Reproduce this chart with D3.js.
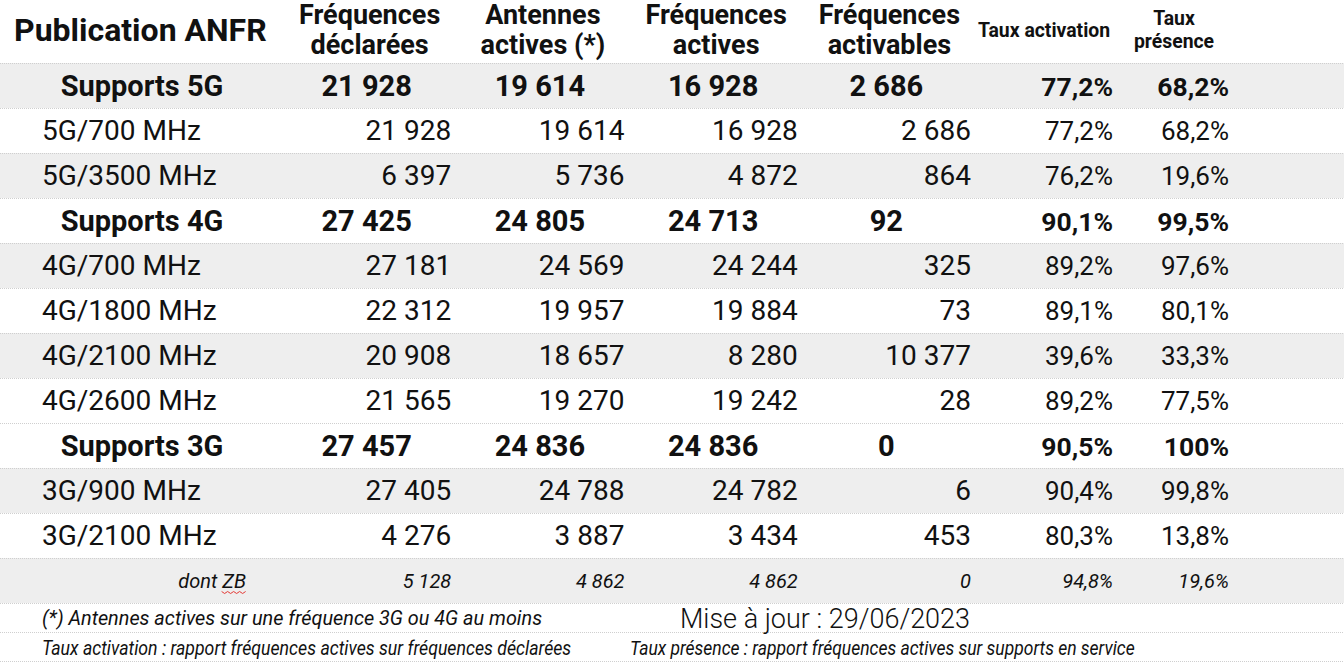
<!DOCTYPE html>
<html><head><meta charset="utf-8">
<script src="https://cdn.jsdelivr.net/npm/d3@7"></script>
<style>
html,body{margin:0;padding:0;background:#fff;}
svg{display:block;font-family:Roboto, "Noto Sans", sans-serif;}
</style></head>
<body><svg id="c" width="1344" height="665"></svg>
<script>
// ---------- data ----------
const title = "Publication ANFR";
const headers = [["Fréquences","déclarées"],["Antennes","actives (*)"],["Fréquences","actives"],["Fréquences","activables"],["Taux activation"],["Taux","présence"]];
const rowLabels = ["Supports 5G","5G/700 MHz","5G/3500 MHz","Supports 4G","4G/700 MHz","4G/1800 MHz","4G/2100 MHz","4G/2600 MHz","Supports 3G","3G/900 MHz","3G/2100 MHz","dont ZB"];
const rowKinds  = ["total","band","band","total","band","band","band","band","total","band","band","sub"];
const rowShaded = [true,false,true,false,true,false,true,false,false,true,false,true];
const freqDeclarees   = [21928,21928,6397,27425,27181,22312,20908,21565,27457,27405,4276,5128];
const antennesActives = [19614,19614,5736,24805,24569,19957,18657,19270,24836,24788,3887,4862];
const freqActives     = [16928,16928,4872,24713,24244,19884,8280,19242,24836,24782,3434,4862];
const freqActivables  = [2686,2686,864,92,325,73,10377,28,0,6,453,0];
const tauxActivation  = [77.2,77.2,76.2,90.1,89.2,89.1,39.6,89.2,90.5,90.4,80.3,94.8];
const tauxPresence    = [68.2,68.2,19.6,99.5,97.6,80.1,33.3,77.5,100,99.8,13.8,19.6];
const footnote = "(*) Antennes actives sur une fréquence 3G ou 4G au moins";
const updated = "Mise à jour : 29/06/2023";
const defActivation = "Taux activation : rapport fréquences actives sur fréquences déclarées";
const defPresence = "Taux présence : rapport fréquences actives sur supports en service";

// ---------- setup ----------
const W = 1344, H = 665;
const svg = d3.select("#c");
const loc = d3.formatLocale({decimal:",", thousands:"\u00a0", grouping:[3], currency:["","€"]});
const fInt = loc.format(",d");
const fPct = v => (Number.isInteger(v) ? loc.format("d")(v) : loc.format(".1f")(v)) + "%";

const countCols = [freqDeclarees, antennesActives, freqActives, freqActivables];
const pctCols = [tauxActivation, tauxPresence];

const y = d3.scaleBand().domain(d3.range(rowLabels.length)).range([63, 603]);
const xCount = d3.scaleBand().domain(d3.range(4)).range([280, 973]);
const pctRight = d3.scaleOrdinal().domain([0,1]).range([1113, 1229]);
const pctHeadCenter = d3.scaleOrdinal().domain([0,1]).range([1044, 1174]);

// text helper (optional horizontal condensing)
function ctext(parent, x, yy, txt, opt) {
  const g = parent.append("g").attr("transform", `translate(${x},${yy}) scale(${opt.sx||1},1)`);
  return g.append("text")
    .attr("text-anchor", opt.anchor || "start")
    .attr("font-size", opt.size)
    .attr("font-weight", opt.weight || 400)
    .attr("font-style", opt.style || "normal")
    .attr("fill", opt.fill || "#111")
    .text(txt);
}

// row backgrounds
svg.append("g").selectAll("rect").data(rowLabels).join("rect")
  .attr("x", 0).attr("width", W)
  .attr("y", (d,i) => y(i)).attr("height", y.bandwidth())
  .attr("fill", (d,i) => rowShaded[i] ? "#eeeeee" : "#ffffff");

// grid lines
const lineYs = d3.range(rowLabels.length + 1).map(i => i < rowLabels.length ? y(i) : y.range()[1]).concat([632, 661]);
svg.append("g").selectAll("line").data(lineYs).join("line")
  .attr("x1", 0).attr("x2", W).attr("y1", d => d + 0.5).attr("y2", d => d + 0.5)
  .attr("stroke", "#cfcfcf").attr("stroke-width", 1).attr("stroke-dasharray", "1,1");

// header
const head = svg.append("g");
ctext(head, 14, 41, title, {size: 32, weight: 700});
headers.forEach((lines, j) => {
  if (j < 4) {
    const cx = xCount(j) + xCount.bandwidth()/2 + 3;
    ctext(head, cx, 24, lines[0], {size: 27, weight: 700, anchor: "middle"});
    ctext(head, cx, 54, lines[1], {size: 27, weight: 700, anchor: "middle"});
  } else {
    const cx = pctHeadCenter(j - 4);
    if (lines.length === 1) {
      ctext(head, cx, 37, lines[0], {size: 19.4, weight: 700, anchor: "middle"});
    } else {
      ctext(head, cx, 25, lines[0], {size: 19.4, weight: 700, anchor: "middle"});
      ctext(head, cx, 48, lines[1], {size: 19.4, weight: 700, anchor: "middle"});
    }
  }
});

// body rows
const body = svg.append("g");
rowLabels.forEach((lab, i) => {
  const kind = rowKinds[i];
  const cy = y(i) + y.bandwidth()/2;
  if (kind === "total") {
    const by = cy + 10.5;
    ctext(body, 142, by, lab, {size: 29, weight: 700, anchor: "middle"});
    countCols.forEach((col, j) => {
      ctext(body, xCount(j) + xCount.bandwidth()/2, by, fInt(col[i]), {size: 29, weight: 700, anchor: "middle"});
    });
    pctCols.forEach((col, j) => {
      ctext(body, pctRight(j), by, fPct(col[i]), {size: 26.5, weight: 700, anchor: "end"});
    });
  } else if (kind === "band") {
    const by = cy + 9.8;
    ctext(body, 42, by, lab, {size: 28, weight: 400});
    countCols.forEach((col, j) => {
      ctext(body, xCount(j) + xCount.bandwidth() - 2, by, fInt(col[i]), {size: 28, weight: 400, anchor: "end"});
    });
    pctCols.forEach((col, j) => {
      ctext(body, pctRight(j), by, fPct(col[i]), {size: 26, weight: 400, anchor: "end"});
    });
  } else {
    const by = cy + 7;
    const t = ctext(body, 246, by, lab, {size: 20, style: "italic", anchor: "end"});
    countCols.forEach((col, j) => {
      ctext(body, xCount(j) + xCount.bandwidth() - 2, by, fInt(col[i]), {size: 20, style: "italic", anchor: "end"});
    });
    pctCols.forEach((col, j) => {
      ctext(body, pctRight(j), by, fPct(col[i]), {size: 20, style: "italic", anchor: "end"});
    });
    // spell-check squiggle under the last word
    const bb = t.node().getBBox();
    const wordW = bb.width * 0.36;
    const x0 = 246 - wordW, yq = by + 4;
    const pts = d3.range(0, Math.floor(wordW / 3) + 1).map(k => [x0 + k*3, yq + (k % 2 ? 2 : 0)]);
    body.append("path").attr("d", d3.line()(pts)).attr("fill", "none").attr("stroke", "#e53935").attr("stroke-width", 1);
  }
});

// footer
const foot = svg.append("g");
ctext(foot, 42, 625, footnote, {size: 21, style: "italic", sx: 0.945});
ctext(foot, 680, 628, updated, {size: 27, weight: 300, sx: 1.0});
ctext(foot, 42, 655, defActivation, {size: 20, style: "italic", sx: 0.885});
ctext(foot, 630, 655, defPresence, {size: 20, style: "italic", sx: 0.875});
</script></body></html>
